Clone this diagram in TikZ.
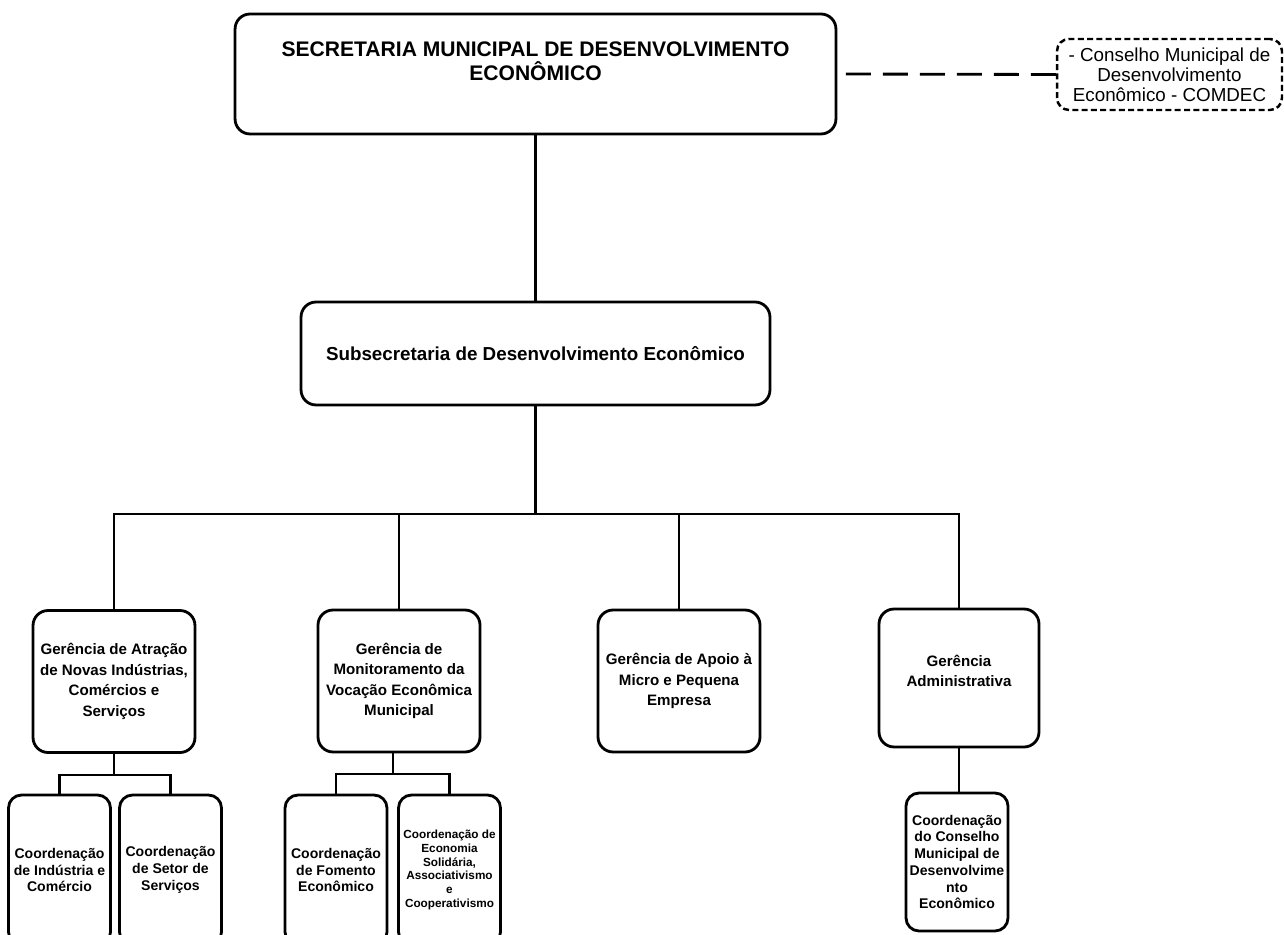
\documentclass[tikz,border=0pt]{standalone}
\usepackage{fontspec}
\setmainfont{Liberation Sans}
\begin{document}
\begin{tikzpicture}[x=0.02cm,y=-0.02cm,line width=1.6pt,
  box/.style={draw,rounded corners=0.3cm,align=center,inner sep=0pt,font=\bfseries},
  gbox/.style={box,minimum width=3.24cm,minimum height=2.84cm,font=\fontsize{8.6}{11.7}\selectfont\bfseries},
  cbox/.style={box,rounded corners=0.26cm,minimum width=2.04cm,font=\fontsize{8}{9.5}\selectfont\bfseries},
  dbox/.style={draw,line width=1.4pt,rounded corners=0.24cm,dash pattern=on 3.4pt off 1.9pt,align=center,inner sep=0pt,font=\fontsize{10.7}{11.3}\selectfont},
  dashline/.style={dash pattern=on 0.5cm off 0.24cm}]
\useasboundingbox (0,0) rectangle (1284,935);
\clip (0,0) rectangle (1284,935);

% top
\node[box,minimum width=12.02cm,minimum height=2.4cm] (top) at (535.5,74) {};
\node[anchor=north,inner sep=0pt,align=center,font=\fontsize{12}{13.6}\selectfont\bfseries] (toptext) at (535.5,40) {SECRETARIA MUNICIPAL DE DESENVOLVIMENTO\\ECONÔMICO};

% comdec
\node[dbox,minimum width=4.5cm,minimum height=1.42cm] (comdec) at (1169.5,74.5) {- Conselho Municipal de\\Desenvolvimento\\Econômico - COMDEC};

% sub
\node[box,minimum width=9.38cm,minimum height=2.06cm,font=\fontsize{10.7}{12.8}\selectfont\bfseries] (sub) at (535.5,353.5) {Subsecretaria de Desenvolvimento Econômico};

% gerencias
\node[gbox] (g1) at (114,681.5) {Gerência de Atração\\de Novas Indústrias,\\Comércios e\\Serviços};
\node[gbox] (g2) at (399,681) {Gerência de\\Monitoramento da\\Vocação Econômica\\Municipal};
\node[gbox,minimum width=3.24cm] (g3) at (679,681) {Gerência de Apoio à\\Micro e Pequena\\Empresa};
\node[gbox,minimum width=3.2cm,minimum height=2.76cm,
  label={[name=g4t,align=center,inner sep=0pt,font=\fontsize{8.6}{11.7}\selectfont\bfseries,yshift=4pt]center:Gerência\\Administrativa}] (g4) at (959,678) {};

% coordenacoes
\node[cbox,minimum height=3cm] (c1) at (59.5,870) {Coordenação\\de Indústria e\\Comércio};
\node[cbox,minimum height=3cm] (c2) at (170.5,870) {Coordenação\\de Setor de\\Serviços};
\node[cbox,minimum height=3cm] (c3) at (336,870) {Coordenação\\de Fomento\\Econômico};
\node[cbox,minimum height=3cm,font=\fontsize{6.7}{7.9}\selectfont\bfseries] (c4) at (449.5,870) {Coordenação de\\Economia\\Solidária,\\Associativismo\\e\\Cooperativismo};
\node[cbox,minimum height=2.76cm] (c5) at (957,862) {Coordenação\\do Conselho\\Municipal de\\Desenvolvime\\nto\\Econômico};

% connectors
\draw (top.south) -- (sub.north);
\draw[dashline] (comdec.west) -- (top.east);
\coordinate (bus) at (535.5,514);
\draw (sub.south) -- (bus);
\draw (g1.north) |- (bus);
\draw (g2.north) |- (bus);
\draw (g3.north) |- (bus);
\draw (g4.north) |- (bus);

\coordinate (j1) at (114,775);
\draw (g1.south) -- (j1);
\draw (c1.north) |- (j1) -| (c2.north);

\coordinate (j2) at (393,774);
\draw (g2.south -| j2) -- (j2);
\draw (c3.north) |- (j2) -| (c4.north);

\draw (g4.south) -- (g4.south |- c5.north);
\end{tikzpicture}
\end{document}
